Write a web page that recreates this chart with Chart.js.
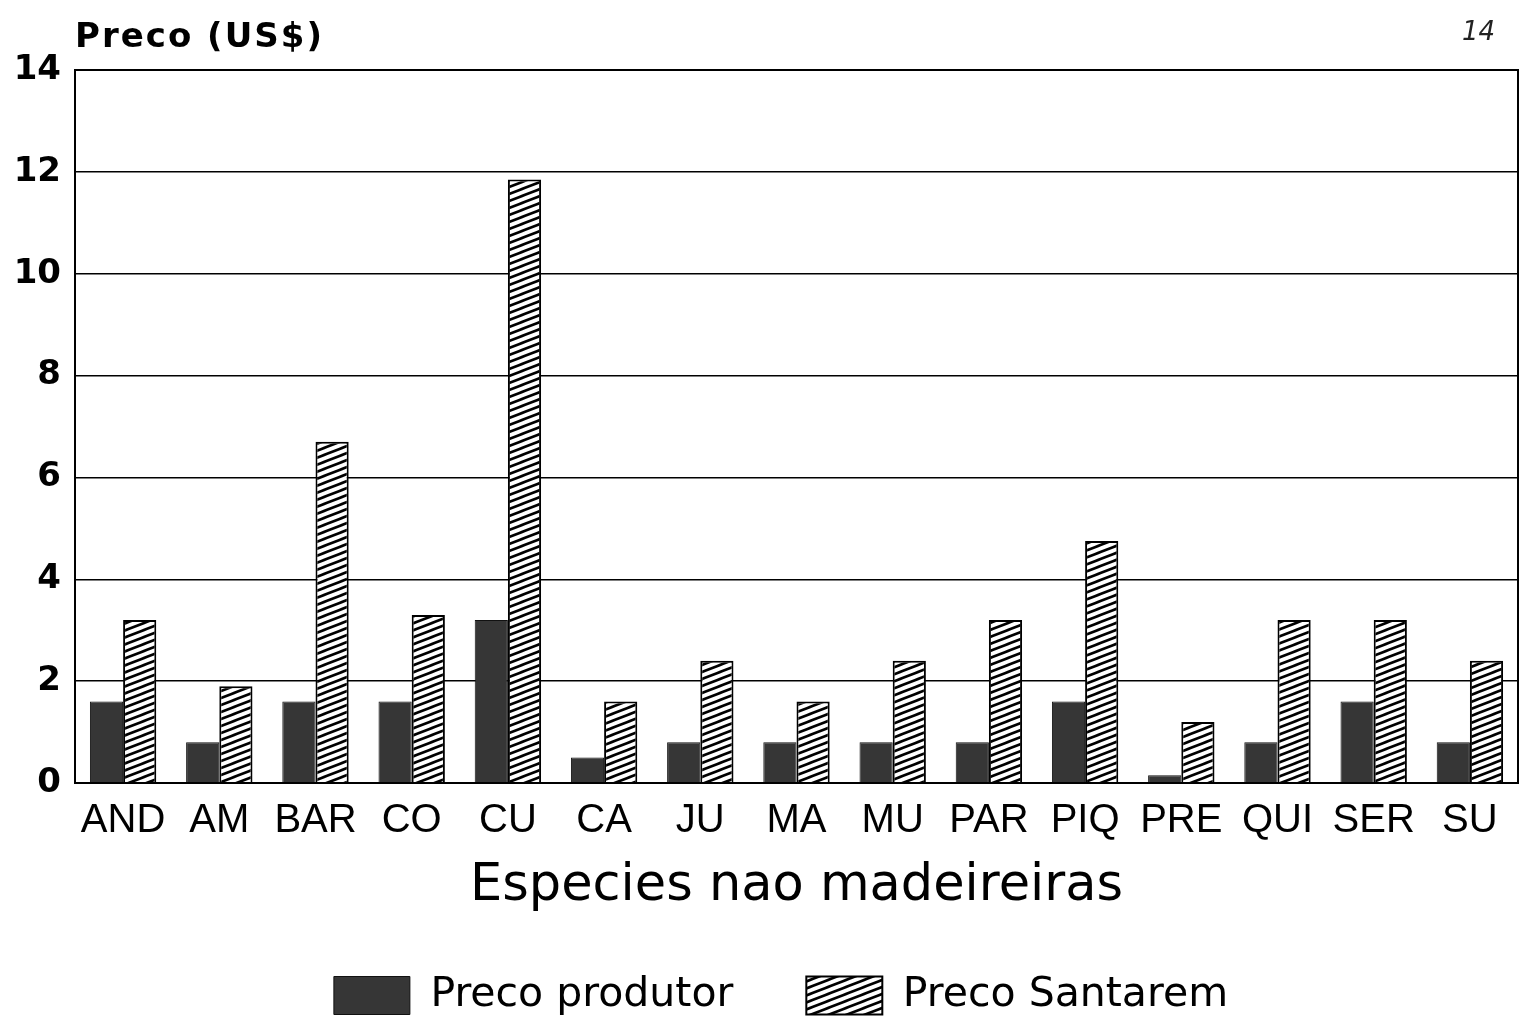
<!DOCTYPE html>
<html lang="pt">
<head>
<meta charset="UTF-8">
<title>Preco produtor x Preco Santarem</title>
<script src="https://cdn.jsdelivr.net/npm/chart.js@4.4.1/dist/chart.umd.min.js"></script>
<style>
  html, body { margin: 0; padding: 0; background: #fff; }
  #wrap { width: 1523px; height: 1026px; }
</style>
</head>
<body>
<div id="wrap"><canvas id="chart" width="1523" height="1026"></canvas></div>
<script>
// Data
const categories = ['AND', 'AM', 'BAR', 'CO', 'CU', 'CA', 'JU', 'MA', 'MU', 'PAR', 'PIQ', 'PRE', 'QUI', 'SER', 'SU'];
const precoProdutor = [1.6, 0.8, 1.6, 1.6, 3.2, 0.5, 0.8, 0.8, 0.8, 0.8, 1.6, 0.15, 0.8, 1.6, 0.8];
const precoSantarem = [3.2, 1.9, 6.7, 3.3, 11.85, 1.6, 2.4, 1.6, 2.4, 3.2, 4.75, 1.2, 3.2, 3.2, 2.4];
const yMin = 0, yMax = 14, yStep = 2;

// diagonal hatch used for the Santarem bars
function hatchPattern() {
  const c = document.createElement('canvas');
  c.width = 18; c.height = 7;
  const g = c.getContext('2d');
  g.fillStyle = '#fff';
  g.fillRect(0, 0, 18, 7);
  g.strokeStyle = '#000';
  g.lineWidth = 2.6;
  for (const k of [-1, 0, 1]) {
    g.beginPath();
    g.moveTo(-2, 7 + 7 * k + 7 * 2 / 18);
    g.lineTo(20, 7 * k - 7 * 2 / 18);
    g.stroke();
  }
  return g.createPattern(c, 'repeat');
}

// plot frame, loose texts, legend nudged to sit under the plot
const framePlugin = {
  id: 'frame',
  afterLayout(chart) {
    if (chart.legend) chart.legend.left = 44;
  },
  afterDatasetsDraw(chart) {
    const {ctx, chartArea: a} = chart;
    ctx.save();
    ctx.strokeStyle = '#000';
    ctx.lineWidth = 2;
    ctx.strokeRect(a.left, a.top, a.right - a.left, a.bottom - a.top);
    ctx.restore();
  },
  afterDraw(chart) {
    const ctx = chart.ctx;
    ctx.save();
    ctx.fillStyle = '#000';
    ctx.textBaseline = 'alphabetic';
    ctx.font = 'bold 34px "DejaVu Sans", sans-serif';
    ctx.letterSpacing = '2px';
    ctx.fillText('Preco (US$)', 75, 47);
    ctx.letterSpacing = '0px';
    ctx.font = 'italic 26px "DejaVu Sans", sans-serif';
    ctx.fillStyle = '#222';
    ctx.fillText('14', 1462, 40);
    ctx.restore();
  }
};

const tickFont = '"Liberation Sans", Arial, sans-serif';
const textFont = '"DejaVu Sans", sans-serif';

new Chart(document.getElementById('chart'), {
  type: 'bar',
  data: {
    labels: categories,
    datasets: [{
      label: 'Preco produtor',
      data: precoProdutor,
      backgroundColor: '#363636',
      borderColor: '#111',
      borderWidth: 1
    }, {
      label: 'Preco Santarem',
      data: precoSantarem,
      backgroundColor: hatchPattern(),
      borderColor: '#000',
      borderWidth: 2
    }]
  },
  options: {
    responsive: false,
    animation: false,
    layout: { padding: { left: 0, right: 5, top: 70, bottom: 0 } },
    datasets: { bar: { categoryPercentage: 0.69, barPercentage: 1.0 } },
    scales: {
      x: {
        grid: { display: false },
        border: { display: true, color: '#000', width: 2 },
        ticks: { color: '#000', font: { family: tickFont, size: 40 }, padding: 6, maxRotation: 0, autoSkip: false },
        title: {
          display: true,
          text: 'Especies nao madeireiras',
          color: '#000',
          font: { family: textFont, size: 51 },
          padding: { top: 0, bottom: -15 }
        },
        afterFit(s) { s.height = 119; }
      },
      y: {
        min: yMin,
        max: yMax,
        ticks: { stepSize: yStep, color: '#000', font: { family: textFont, size: 34, weight: 'bold' }, padding: 14 },
        grid: { color: '#000', lineWidth: 1.5, drawTicks: false },
        border: { display: true, color: '#000', width: 2 },
        afterFit(s) { s.width = 75; }
      }
    },
    plugins: {
      legend: {
        position: 'bottom',
        labels: {
          boxWidth: 76,
          boxHeight: 38,
          padding: 73,
          color: '#000',
          font: { family: textFont, size: 41 }
        }
      },
      tooltip: { enabled: false }
    }
  },
  plugins: [framePlugin]
});
</script>
</body>
</html>
